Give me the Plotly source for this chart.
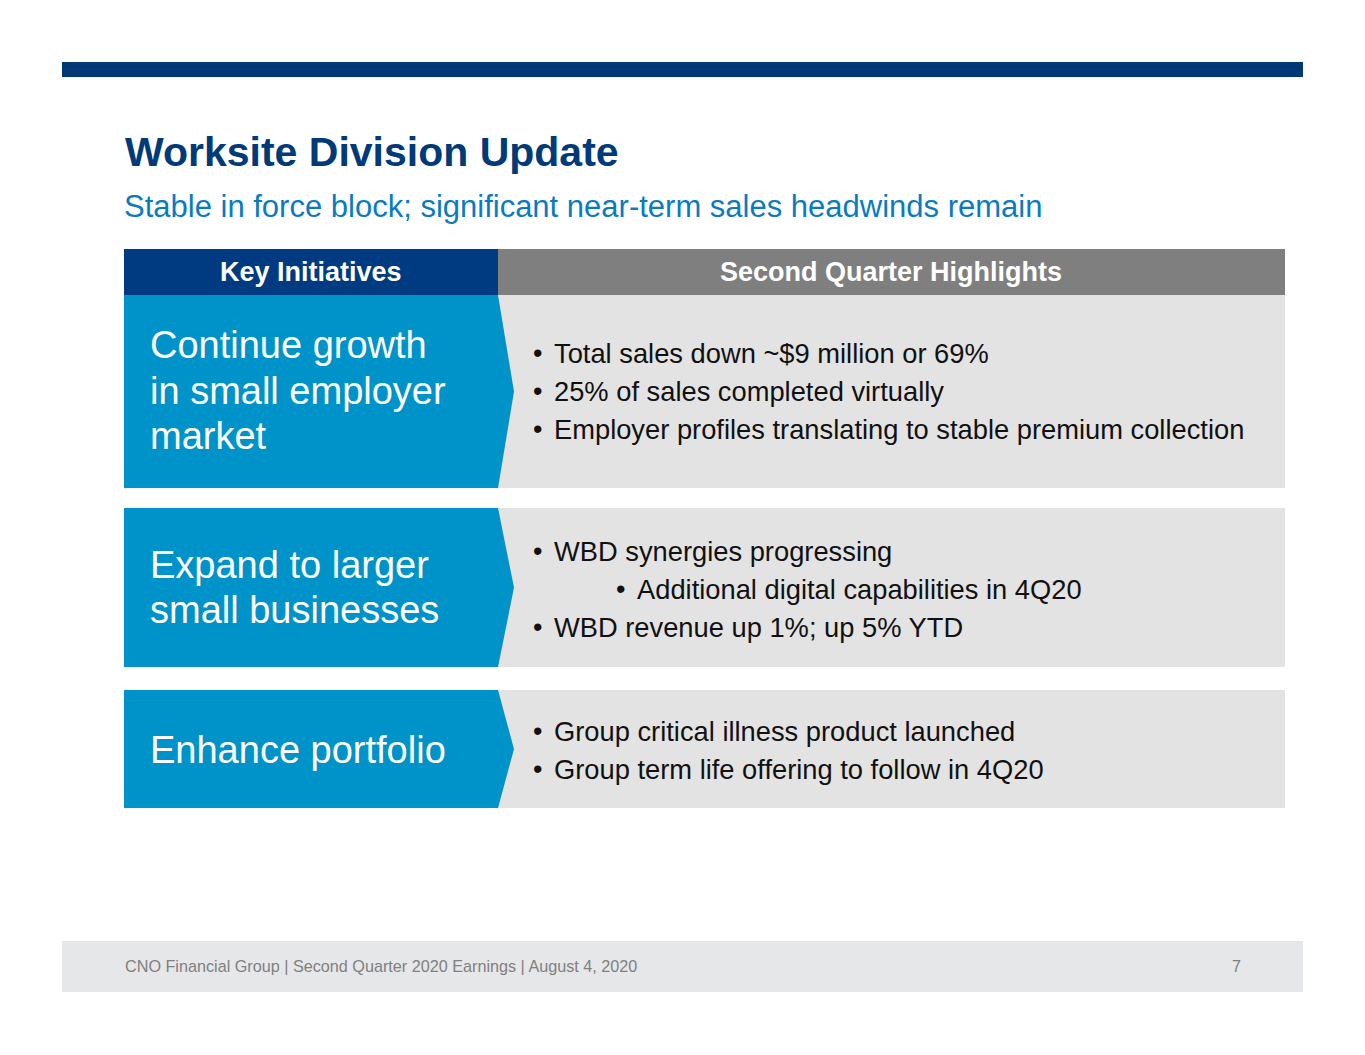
import plotly.graph_objects as go

# slide content
title = "Worksite Division Update"
subtitle = "Stable in force block; significant near-term sales headwinds remain"
col_headers = ["Key Initiatives", "Second Quarter Highlights"]
initiatives = [
    ["Continue growth", "in small employer", "market"],
    ["Expand to larger", "small businesses"],
    ["Enhance portfolio"],
]
highlights = [
    [(0, "Total sales down ~$9 million or 69%"),
     (0, "25% of sales completed virtually"),
     (0, "Employer profiles translating to stable premium collection")],
    [(0, "WBD synergies progressing"),
     (1, "Additional digital capabilities in 4Q20"),
     (0, "WBD revenue up 1%; up 5% YTD")],
    [(0, "Group critical illness product launched"),
     (0, "Group term life offering to follow in 4Q20")],
]
footer = "CNO Financial Group | Second Quarter 2020 Earnings | August 4, 2020"
page_no = "7"

W, H = 1365, 1055
OFF = 8  # page body margin
FONT = "Liberation Sans, Arial, sans-serif"
NAVY = "#003a78"
BLUE = "#0093c9"
GREY_HDR = "#7f7f80"
PANEL = "#e3e3e3"

# row boxes (top, bottom) and centre lines
rows = [(295, 488), (508, 667), (690, 808)]
title_y = [[345, 391, 436], [565, 610], [750]]
bullet_y = [[353, 391, 429], [551, 589, 627], [731, 769]]

shapes = []
annos = []

def rect(x0, y0, x1, y1, color):
    shapes.append(dict(type="rect", x0=x0, y0=y0, x1=x1, y1=y1,
                       fillcolor=color, line=dict(width=0), layer="below"))

def text(x, y, s, size, color, bold=False, anchor="left"):
    if bold:
        s = "<b>" + s + "</b>"
    annos.append(dict(x=x, y=y, text=s, showarrow=False, xanchor=anchor,
                      yanchor="middle", font=dict(family=FONT, size=size, color=color)))

# top bar and footer band
rect(62, 62, 1303, 77, "#003876")
rect(62, 941, 1303, 992, "#e6e7e8")

text(123, 152, title, 41, NAVY, bold=True)
text(122, 206, subtitle, 31, "#0a7bc1")

# table header
rect(124, 249, 498, 295, "#003a80")
rect(498, 249, 1285, 295, GREY_HDR)
text(311, 272, col_headers[0], 27, "white", bold=True, anchor="center")
text(891, 272, col_headers[1], 27, "white", bold=True, anchor="center")

for i, (y0, y1) in enumerate(rows):
    rect(498, y0, 1285, y1, PANEL)
    ym = (y0 + y1) / 2
    shapes.append(dict(type="path",
                       path=f"M 124 {y0} L 498 {y0} L 514 {ym} L 498 {y1} L 124 {y1} Z",
                       fillcolor=BLUE, line=dict(width=0)))
    for line, y in zip(initiatives[i], title_y[i]):
        text(148, y, line, 38, "white")
    for (lvl, s), y in zip(highlights[i], bullet_y[i]):
        bx = 537 + lvl * 83
        text(bx, y, "•", 27, "#111111", anchor="center")
        text(bx + 15, y, s, 27.3, "#111111")

text(123, 966, footer, 16.2, "#808080")
text(1243, 966, page_no, 16.2, "#808080", anchor="right")

fig = go.Figure()
fig.update_layout(
    width=W, height=H,
    margin=dict(l=0, r=0, t=0, b=0),
    paper_bgcolor="white", plot_bgcolor="white",
    xaxis=dict(range=[OFF, W + OFF], visible=False, fixedrange=True),
    yaxis=dict(range=[H + OFF, OFF], visible=False, fixedrange=True),
    shapes=shapes, annotations=annos,
    showlegend=False,
)
fig.write_html("out.html")
